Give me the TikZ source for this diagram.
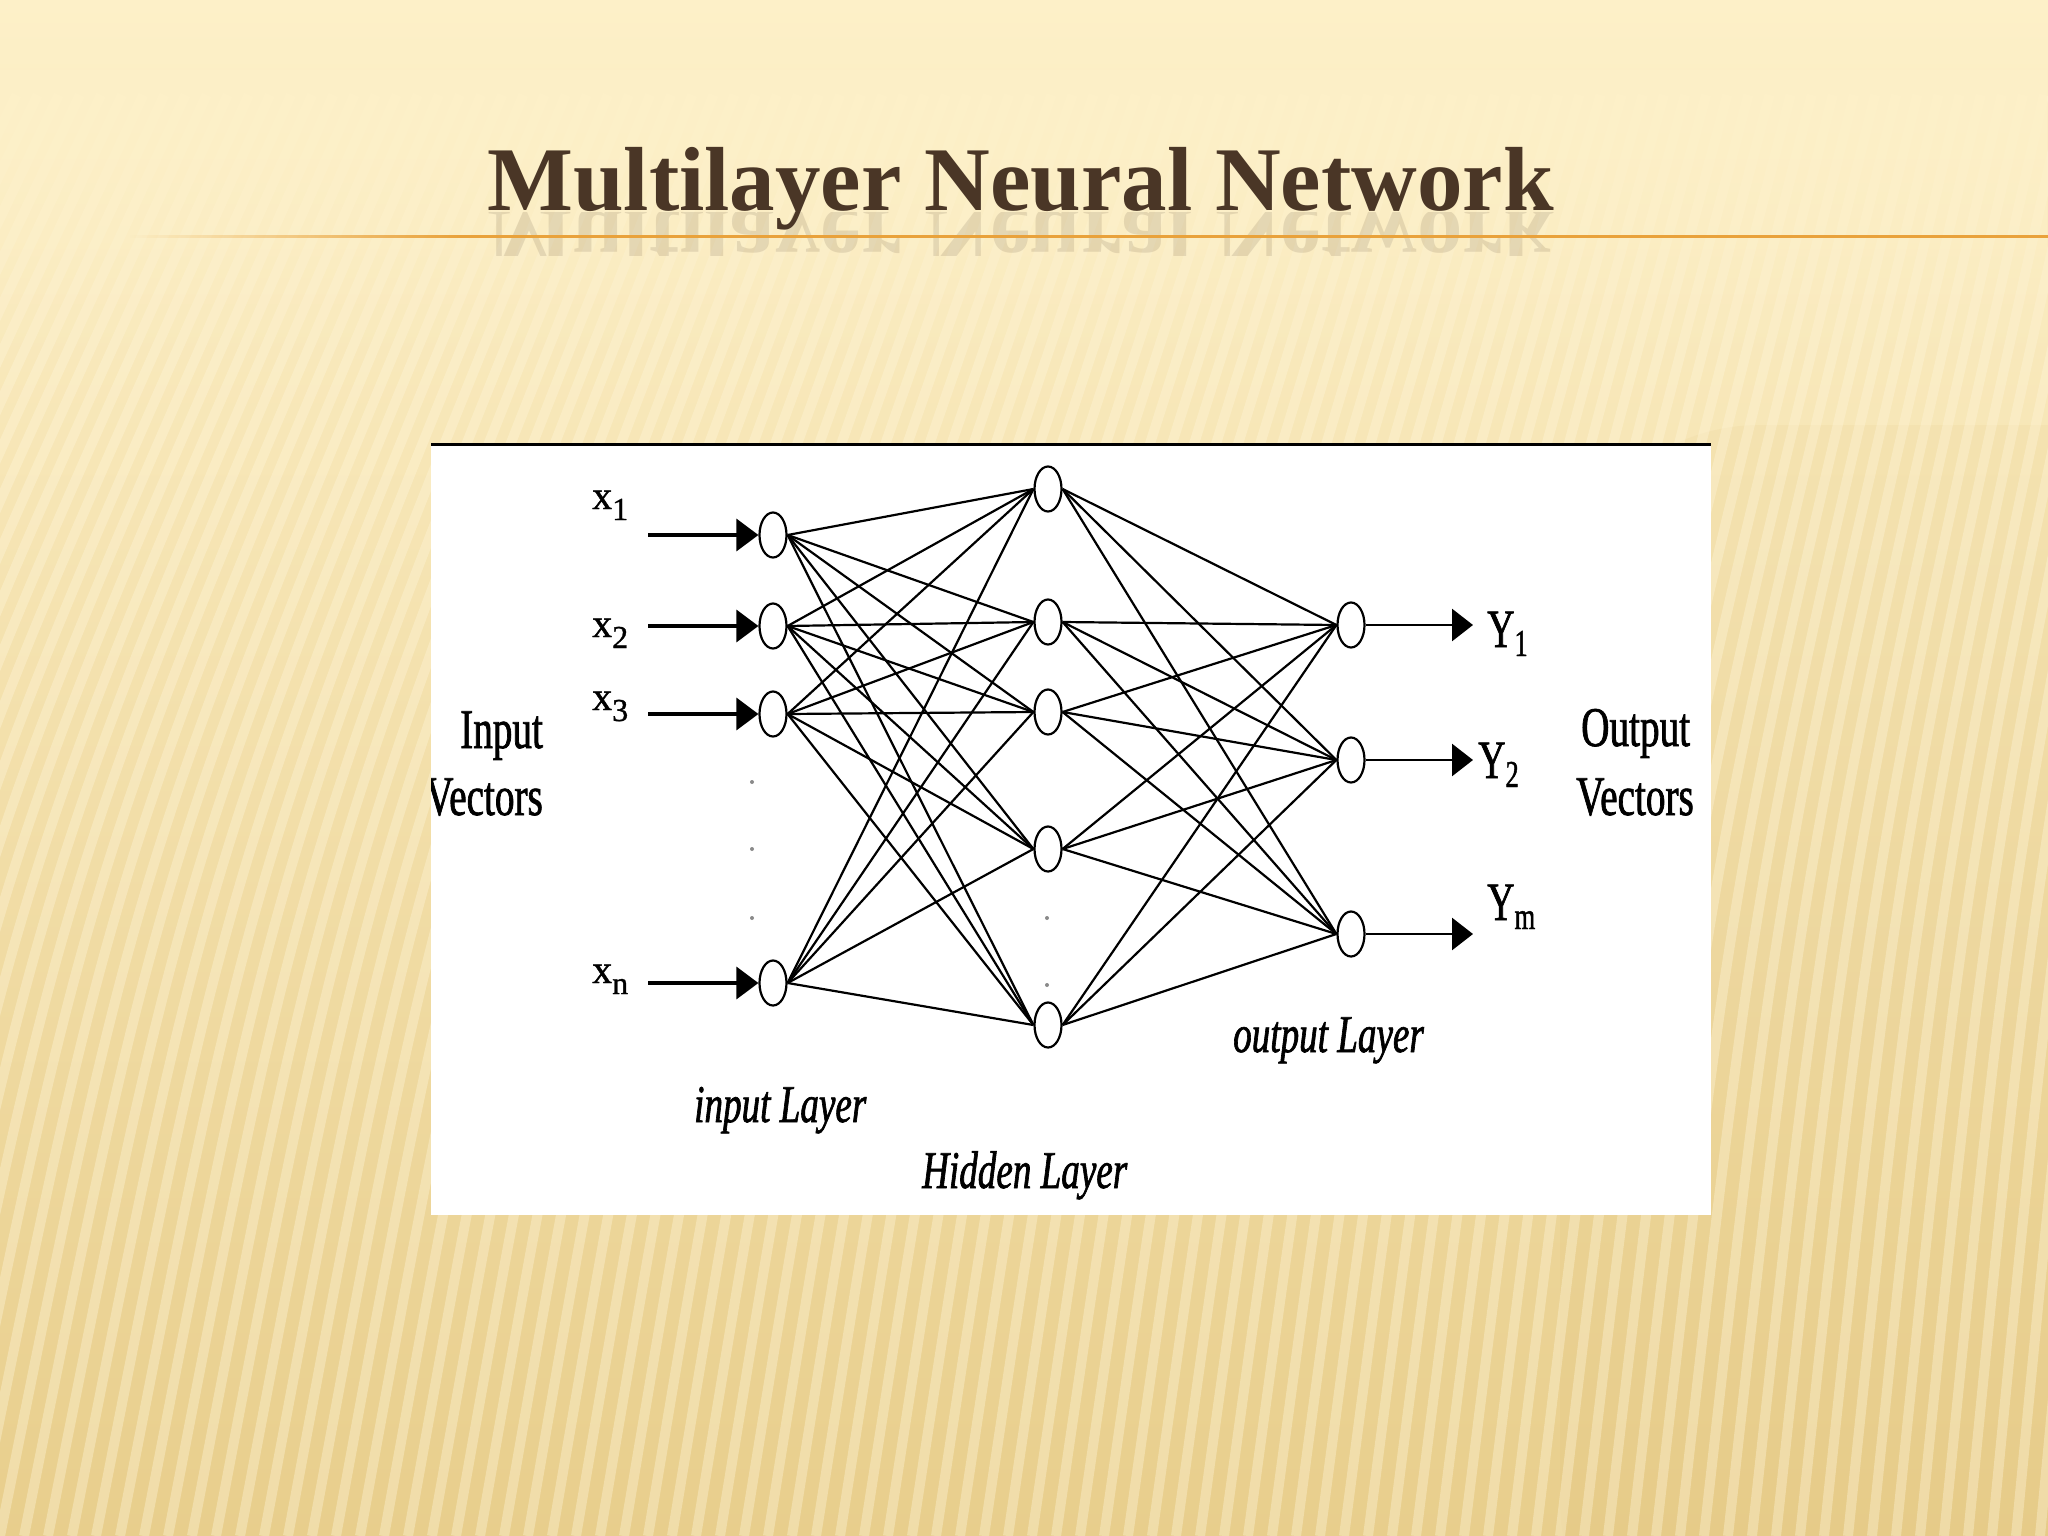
\documentclass[tikz,border=0pt]{standalone}
\usepackage{fontspec}
\setmainfont{Liberation Serif}
\newfontfamily\lblfont[FakeStretch=0.7,FakeBold=1.2]{Liberation Serif}
\newfontfamily\xfont[FakeBold=1]{Liberation Serif}
\usetikzlibrary{arrows.meta,shapes.geometric,fadings}
\definecolor{bgtop}{HTML}{FDF0C8}
\definecolor{bgmid}{HTML}{F6E3AA}
\definecolor{bgbot}{HTML}{E8CE8C}
\definecolor{stripecol}{HTML}{FFF6DA}
\definecolor{darkzone}{HTML}{D2AE5E}
\definecolor{titlebrown}{HTML}{4A3626}
\definecolor{rulecol}{HTML}{E9A23B}
\definecolor{dotgrey}{HTML}{8A8A8A}
\tikzset{
  neuron/.style={ellipse, draw=black, line width=2.2pt, fill=white,
    minimum width=27pt, minimum height=45pt, inner sep=0pt},
  link/.style={draw=black, line width=2.2pt},
  inarrow/.style={draw=black, line width=3.4pt, -{Triangle[length=22pt,width=32pt]}},
  outarrow/.style={draw=black, line width=2.8pt, -{Triangle[length=21pt,width=32pt]}},
  biglbl/.style={inner sep=0pt, font=\lblfont\fontsize{56}{56}\selectfont},
  itlbl/.style={inner sep=0pt, font=\lblfont\itshape\fontsize{53}{53}\selectfont},
  ylbl/.style={inner sep=0pt, font=\lblfont\fontsize{54}{54}\selectfont},
  xlbl/.style={inner sep=0pt, font=\xfont\fontsize{40}{40}\selectfont},
  titletext/.style={inner sep=0pt, text=titlebrown, font=\fontsize{91}{91}\selectfont\bfseries},
  smalldot/.style={circle, fill=dotgrey, inner sep=0pt, minimum size=4pt}
}
\begin{document}
\begin{tikzpicture}[x=1pt,y=-1pt]
\useasboundingbox (0,0) rectangle (2048,1536);
% background
\shade[top color=bgtop, middle color=bgmid, bottom color=bgbot] (0,0) rectangle (2048,1536);
\fill[darkzone, opacity=0.07, rounded corners=200pt] (1560,425) rectangle (2300,1700);
\foreach \k in {-22,...,90} {
  \pgfmathsetmacro{\xb}{\k*24}
  \pgfmathsetmacro{\sl}{max(80,460-0.12*\xb)}
  \draw[stripecol, line width=10pt, opacity=0.38] (\xb+\sl,95) .. controls (\xb+0.3*\sl,850) .. (\xb,1536);
}
\fill[bgtop, path fading=south] (0,70) rectangle (2048,380);
% title with reflection
\begin{scope}
  \clip (400,212) rectangle (1650,255);
  \begin{scope}[shift={(487,210)}, yscale=-1]
    \node[titletext, anchor=base west, transform shape, opacity=0.13] (titlerefl) at (0,0) {Multilayer Neural Network};
  \end{scope}
\end{scope}
\fill[rulecol, path fading=west] (130,234.5) rectangle (460,237.5);
\fill[rulecol] (459,234.5) rectangle (2048,237.5);
\node[titletext, anchor=base west] (title) at (487,210) {Multilayer Neural Network};
% panel
\fill[white] (431,444) rectangle (1711,1215);
\draw[black, line width=3pt] (431,444) -- (1711,444);
\begin{scope}
\clip (431,445.5) rectangle (1711,1215);
% neurons
\node[neuron] (i1) at (773,535) {};
\node[neuron] (i2) at (773,626) {};
\node[neuron] (i3) at (773,714) {};
\node[neuron] (in) at (773,983) {};
\node[neuron] (h1) at (1048,489) {};
\node[neuron] (h2) at (1048,622) {};
\node[neuron] (h3) at (1048,712) {};
\node[neuron] (h4) at (1048,849) {};
\node[neuron] (h5) at (1048,1025) {};
\node[neuron] (o1) at (1351,625) {};
\node[neuron] (o2) at (1351,760) {};
\node[neuron] (o3) at (1351,934) {};
% links
\foreach \a in {i1,i2,i3,in} {
  \foreach \b in {h1,h2,h3,h4,h5} {
    \draw[link] (\a.east) -- (\b.west);
  }
}
\foreach \a in {h1,h2,h3,h4,h5} {
  \foreach \b in {o1,o2,o3} {
    \draw[link] (\a.east) -- (\b.west);
  }
}
% input arrows
\coordinate (a1) at (648,535);
\coordinate (a2) at (648,626);
\coordinate (a3) at (648,714);
\coordinate (an) at (648,983);
\draw[inarrow] (a1) -- (i1.west);
\draw[inarrow] (a2) -- (i2.west);
\draw[inarrow] (a3) -- (i3.west);
\draw[inarrow] (an) -- (in.west);
% output arrows
\coordinate (b1) at (1473,625);
\coordinate (b2) at (1473,760);
\coordinate (b3) at (1473,934);
\draw[outarrow] (o1.east) -- (b1);
\draw[outarrow] (o2.east) -- (b2);
\draw[outarrow] (o3.east) -- (b3);
% dots
\node[smalldot] (d1) at (752,782) {};
\node[smalldot] (d2) at (752,849) {};
\node[smalldot] (d3) at (752,918) {};
\node[smalldot] (d4) at (1047,918) {};
\node[smalldot] (d5) at (1047,985) {};
% x labels
\node[xlbl, anchor=base west] (x1) at (592,509) {x\raisebox{-11pt}{\fontsize{32}{32}\selectfont 1}};
\node[xlbl, anchor=base west] (x2) at (592,637) {x\raisebox{-11pt}{\fontsize{32}{32}\selectfont 2}};
\node[xlbl, anchor=base west] (x3) at (592,710) {x\raisebox{-11pt}{\fontsize{32}{32}\selectfont 3}};
\node[xlbl, anchor=base west] (xn) at (592,983) {x\raisebox{-11pt}{\fontsize{32}{32}\selectfont n}};
% Y labels
\node[ylbl, anchor=base west] (y1) at (1487,647) {Y\raisebox{-9pt}{\fontsize{38}{38}\selectfont 1}};
\node[ylbl, anchor=base west] (y2) at (1478,778) {Y\raisebox{-9pt}{\fontsize{38}{38}\selectfont 2}};
\node[ylbl, anchor=base west] (ym) at (1487,920) {Y\raisebox{-9pt}{\fontsize{38}{38}\selectfont m}};
% side labels
\node[biglbl, anchor=base west] (inl1) at (460,748) {Input};
\node[biglbl, anchor=base east] (inl2) at (543,815) {Vectors};
\node[biglbl, anchor=base west] (outl1) at (1581,746) {Output};
\node[biglbl, anchor=base west] (outl2) at (1576,815) {Vectors};
% layer labels
\node[itlbl, anchor=base west] (linput) at (694,1122) {input Layer};
\node[itlbl, anchor=base west] (lhidden) at (922,1188) {Hidden Layer};
\node[itlbl, anchor=base west] (loutput) at (1233,1052) {output Layer};
\end{scope}
\end{tikzpicture}
\end{document}
